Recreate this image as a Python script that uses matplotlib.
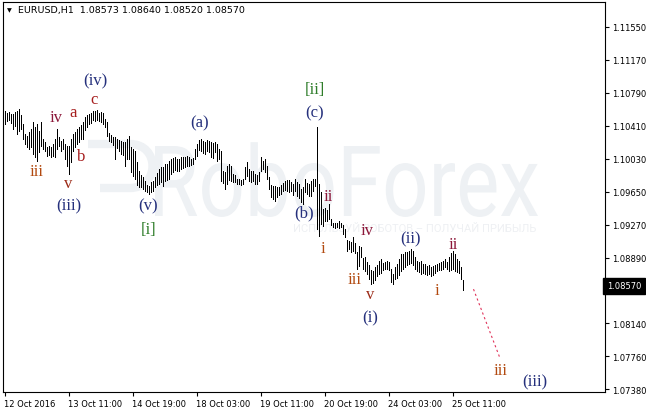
import matplotlib.pyplot as plt
from matplotlib.textpath import TextPath
from matplotlib.patches import PathPatch
from matplotlib.path import Path
from matplotlib.font_manager import FontProperties
from matplotlib.transforms import Affine2D, IdentityTransform, blended_transform_factory

# EURUSD H1, 12 Oct 2016 - 25 Oct 2016 (high / low of each bar)
high = [
    1.1058, 1.1056, 1.1057, 1.1055, 1.1055, 1.1057, 1.1058, 1.1060, 1.1053, 1.1043,
    1.1032, 1.1029, 1.1034, 1.1037, 1.1045, 1.1040, 1.1043, 1.1035, 1.1045, 1.1026,
    1.1022, 1.1017, 1.1018, 1.1017, 1.1020, 1.1026, 1.1037, 1.1028, 1.1024, 1.1026,
    1.1020, 1.1018, 1.1018, 1.1026, 1.1032, 1.1034, 1.1037, 1.1040, 1.1042, 1.1045,
    1.1051, 1.1053, 1.1055, 1.1056, 1.1058, 1.1058, 1.1059, 1.1056, 1.1057, 1.1056,
    1.1049, 1.1045, 1.1033, 1.1030, 1.1028, 1.1028, 1.1026, 1.1025, 1.1024, 1.1022,
    1.1022, 1.1026, 1.1029, 1.1017, 1.1014, 1.1012, 1.0999, 1.0989, 1.0984, 1.0982,
    1.0978, 1.0973, 1.0972, 1.0976, 1.0978, 1.0982, 1.0987, 1.0991, 1.0994, 1.0994,
    1.0997, 1.0997, 1.1001, 1.1003, 1.1004, 1.1005, 1.1003, 1.1003, 1.1005, 1.1005,
    1.1005, 1.1006, 1.1005, 1.1003, 1.1004, 1.1014, 1.1020, 1.1025, 1.1026, 1.1024,
    1.1022, 1.1025, 1.1024, 1.1022, 1.1021, 1.1022, 1.1020, 1.1014, 1.1012, 1.0989,
    1.0988, 1.0995, 1.0997, 1.0995, 1.0986, 1.0984, 1.0980, 1.0980, 1.0979, 1.0980,
    1.0994, 1.0999, 1.0991, 1.0989, 1.0989, 1.0986, 1.0984, 1.0988, 1.1005, 1.1001,
    1.1003, 1.0995, 1.0982, 1.0973, 1.0972, 1.0972, 1.0971, 1.0971, 1.0973, 1.0975,
    1.0978, 1.0979, 1.0979, 1.0976, 1.0974, 1.0980, 1.0976, 1.0974, 1.0968, 1.0971,
    1.0980, 1.0975, 1.0974, 1.0978, 1.0980, 1.0980, 1.1040, 1.0974, 1.0965, 1.0945,
    1.0946, 1.0944, 1.0951, 1.0934, 1.0929, 1.0929, 1.0929, 1.0931, 1.0929, 1.0927,
    1.0922, 1.0910, 1.0908, 1.0907, 1.0913, 1.0906, 1.0896, 1.0903, 1.0902, 1.0889,
    1.0890, 1.0884, 1.0881, 1.0875, 1.0874, 1.0878, 1.0881, 1.0885, 1.0888, 1.0883,
    1.0884, 1.0885, 1.0884, 1.0876, 1.0871, 1.0879, 1.0882, 1.0888, 1.0893, 1.0893,
    1.0896, 1.0896, 1.0897, 1.0899, 1.0897, 1.0890, 1.0885, 1.0884, 1.0885, 1.0882,
    1.0882, 1.0880, 1.0881, 1.0879, 1.0880, 1.0881, 1.0882, 1.0883, 1.0884, 1.0885,
    1.0888, 1.0884, 1.0890, 1.0895, 1.0897, 1.0893, 1.0888, 1.0885, 1.0879, 1.0864]
low = [
    1.1043, 1.1047, 1.1048, 1.1044, 1.1037, 1.1041, 1.1032, 1.1035, 1.1037, 1.1026,
    1.1020, 1.1017, 1.1014, 1.1017, 1.1009, 1.1005, 1.1001, 1.1011, 1.1018, 1.1014,
    1.1012, 1.1006, 1.1007, 1.1005, 1.1006, 1.1005, 1.1014, 1.1018, 1.1012, 1.1014,
    1.1003, 1.0995, 1.0986, 1.0999, 1.1012, 1.1017, 1.1020, 1.1022, 1.1026, 1.1026,
    1.1036, 1.1040, 1.1043, 1.1044, 1.1048, 1.1047, 1.1048, 1.1047, 1.1045, 1.1043,
    1.1040, 1.1029, 1.1024, 1.1022, 1.1019, 1.1003, 1.1016, 1.1012, 1.1009, 1.1007,
    1.0995, 1.1003, 1.1003, 1.0988, 1.0983, 1.0980, 1.0973, 1.0971, 1.0971, 1.0968,
    1.0966, 1.0965, 1.0963, 1.0965, 1.0966, 1.0971, 1.0973, 1.0974, 1.0976, 1.0972,
    1.0978, 1.0979, 1.0980, 1.0986, 1.0988, 1.0990, 1.0989, 1.0989, 1.0991, 1.0992,
    1.0994, 1.0995, 1.0995, 1.0996, 1.0997, 1.1003, 1.1006, 1.1013, 1.1012, 1.1010,
    1.1009, 1.1012, 1.1011, 1.1005, 1.1004, 1.1011, 1.1001, 1.1003, 1.0978, 1.0975,
    1.0968, 1.0974, 1.0979, 1.0978, 1.0976, 1.0976, 1.0974, 1.0974, 1.0973, 1.0974,
    1.0980, 1.0983, 1.0978, 1.0976, 1.0978, 1.0974, 1.0974, 1.0978, 1.0989, 1.0991,
    1.0988, 1.0980, 1.0968, 1.0959, 1.0957, 1.0955, 1.0959, 1.0961, 1.0963, 1.0966,
    1.0967, 1.0966, 1.0965, 1.0966, 1.0961, 1.0966, 1.0960, 1.0958, 1.0953, 1.0951,
    1.0965, 1.0963, 1.0960, 1.0960, 1.0966, 1.0972, 1.0922, 1.0914, 1.0928, 1.0926,
    1.0931, 1.0931, 1.0934, 1.0927, 1.0925, 1.0923, 1.0925, 1.0923, 1.0925, 1.0916,
    1.0913, 1.0897, 1.0899, 1.0896, 1.0897, 1.0895, 1.0876, 1.0880, 1.0890, 1.0876,
    1.0874, 1.0871, 1.0865, 1.0859, 1.0860, 1.0863, 1.0868, 1.0871, 1.0872, 1.0875,
    1.0876, 1.0876, 1.0875, 1.0861, 1.0859, 1.0865, 1.0866, 1.0869, 1.0874, 1.0876,
    1.0879, 1.0881, 1.0882, 1.0883, 1.0881, 1.0876, 1.0874, 1.0873, 1.0871, 1.0872,
    1.0871, 1.0869, 1.0871, 1.0868, 1.0869, 1.0872, 1.0874, 1.0875, 1.0875, 1.0876,
    1.0879, 1.0876, 1.0874, 1.0875, 1.0876, 1.0874, 1.0873, 1.0872, 1.0865, 1.0852]

xtick_pos = [0, 32, 64, 96, 128, 160, 192, 224]
xtick_labels = ['12 Oct 2016', '13 Oct 11:00', '14 Oct 19:00', '18 Oct 03:00',
                '19 Oct 11:00', '20 Oct 19:00', '24 Oct 03:00', '25 Oct 11:00']
ytick_vals = [1.0738, 1.0776, 1.0814, 1.0852, 1.0889, 1.0927, 1.0965,
              1.1003, 1.1041, 1.1079, 1.1117, 1.1155]
ytick_labels = ['%.5f' % v for v in ytick_vals]
last_price = 1.0857
title = 'EURUSD,H1  1.08573 1.08640 1.08520 1.08570'

# elliott wave marks
wave_text = ['iii', 'iv', 'a', 'c', '(iv)', 'b', 'v', '(iii)', '(a)', '(v)', '[i]',
             '[ii]', '(c)', '(b)', 'ii', 'i', 'iv', '(ii)', 'iii', 'v', '(i)',
             'i', 'ii', 'iii', '(iii)']
wave_x = [16, 26, 34.5, 45, 45.5, 38.5, 32, 32, 97.5, 72, 72,
          155, 155, 150, 162, 159, 181.5, 203, 175, 183, 183,
          216, 224.5, 248, 265]
wave_y = [1.0989, 1.1051, 1.1057, 1.1072, 1.1093, 1.1006, 1.0975, 1.0949, 1.1045, 1.0950, 1.0922,
          1.1083, 1.1056, 1.0941, 1.0960, 1.0900, 1.0921, 1.0911, 1.0865, 1.0847, 1.0821,
          1.0852, 1.0905, 1.0760, 1.0747]
forecast_x = [234.5, 247.5]
forecast_y = [1.0853, 1.0775]

c_odd = '#b24a10'
c_even = '#8c1739'
c_abc = '#a61e1e'
c_par = '#25307c'
c_brk = '#2f7d2a'
col_map = {'i': c_odd, 'iii': c_odd, 'v': '#9c2b18', 'ii': c_even, 'iv': c_even,
           'a': c_abc, 'b': c_abc, 'c': c_abc}
wm_col = '#eef1f4'

W, H = 646, 414
fig = plt.figure(figsize=(W / 100, H / 100), dpi=100)
ax = fig.add_axes([3 / W, 21 / H, 602 / W, 390 / H])

# watermark: logo piece + name + slogan
logo = Path([(88, H - 145), (130, H - 145),
             (160, H - 145), (160, H - 189), (130, H - 189),
             (100, H - 189)],
            [Path.MOVETO, Path.LINETO, Path.CURVE4, Path.CURVE4, Path.CURVE4, Path.LINETO])
ax.add_artist(PathPatch(logo, transform=IdentityTransform(), fc='none', ec=wm_col,
                        lw=6, capstyle='butt', zorder=0.5))
wm_prop = FontProperties(family='Roboto')
tp = TextPath((0, 0), 'RoboForex', size=1, prop=wm_prop)
ext = tp.get_extents()
sx = 383 / ext.width
sy = 70 / 0.711
tr = Affine2D().scale(sx, sy).translate(155 - ext.x0 * sx, H - 217)
ax.add_artist(PathPatch(tp, transform=tr + IdentityTransform(), fc=wm_col, ec='none', zorder=0.5))
ax.text(0.684, 0.42, 'ИСПОЛЬЗУЙ РОБОТОВ – ПОЛУЧАЙ ПРИБЫЛЬ', transform=ax.transAxes,
        fontsize=8, family='Roboto', color='#eef0f3', ha='center', va='center', zorder=0.6)

x = list(range(len(high)))
ax.vlines(x, low, high, colors='black', linewidth=0.6, antialiased=False, snap=True, zorder=2)

ax.plot(forecast_x, forecast_y, color='#e0335a', lw=0.8, ls=(0, (2, 2.5)), zorder=2)

for t, xx, yy in zip(wave_text, wave_x, wave_y):
    if t.startswith('('):
        c = c_par
    elif t.startswith('['):
        c = c_brk
    else:
        c = col_map[t]
    ax.text(xx, yy, t, color=c, fontsize=12, family='Liberation Serif',
            ha='center', va='center', zorder=3)

ax.set_xlim(-0.75, 300.25)
ax.set_ylim(1.07346, 1.11836)

ax.yaxis.tick_right()
ax.set_yticks(ytick_vals)
ax.set_yticklabels(ytick_labels)
ax.set_xticks(xtick_pos)
ax.set_xticklabels(xtick_labels, ha='left')
ax.tick_params(axis='both', labelsize=6, length=3, width=0.8, color='black', pad=2)
for s in ax.spines.values():
    s.set_linewidth(0.8)

trans = blended_transform_factory(ax.transAxes, ax.transData)
ax.text(1.003, last_price, '1.08570', transform=trans, fontsize=6, color='white',
        va='center', ha='left', clip_on=False, zorder=5,
        bbox=dict(boxstyle='square,pad=0.4', fc='black', ec='black'))

fig.text(9.5 / W, 1 - 11 / H, '▼', fontsize=4.5, ha='center', va='center')
fig.text(18 / W, 1 - 11 / H, title, fontsize=6.8, ha='left', va='center')

fig.savefig('out.png', dpi=100)
